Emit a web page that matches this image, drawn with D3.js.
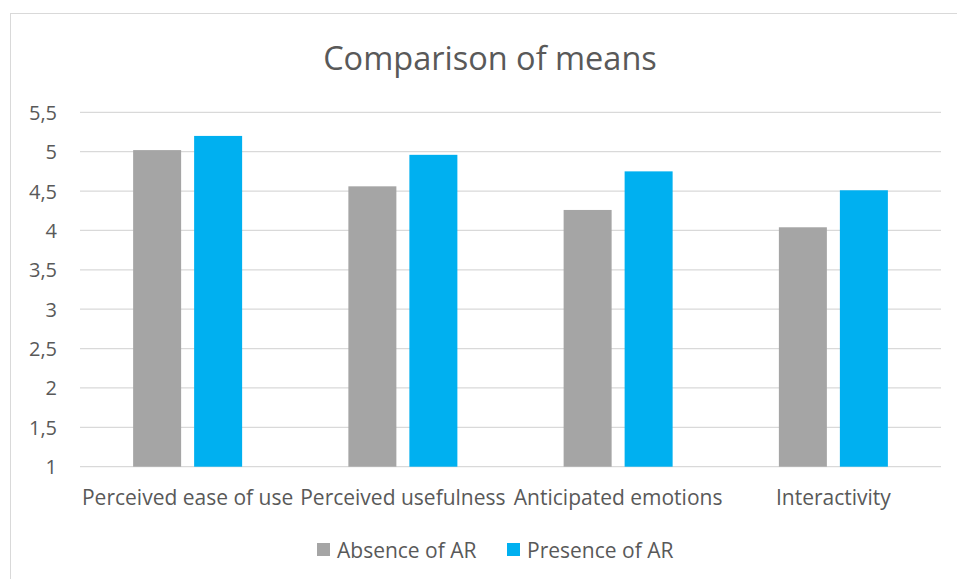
<!DOCTYPE html>
<html><head><meta charset="utf-8">
<script src="https://cdn.jsdelivr.net/npm/d3@7"></script>
<style>body{margin:0;background:#fff;} text{font-family:"Open Sans", sans-serif;}</style>
</head><body>
<svg id="c" width="957" height="579"></svg>
<script>
const categories = ["Perceived ease of use","Perceived usefulness","Anticipated emotions","Interactivity"];
const seriesNames = ["Absence of AR","Presence of AR"];
const absence = [5.02, 4.56, 4.26, 4.04];
const presence = [5.2, 4.96, 4.75, 4.51];
const yTicks = [1,1.5,2,2.5,3,3.5,4,4.5,5,5.5];
const colors = ["#A5A5A5","#00B0F0"];

const svg = d3.select("#c");
svg.append("rect").attr("x",10.5).attr("y",13.5).attr("width",960).attr("height",600)
  .attr("fill","#fff").attr("stroke","#D9D9D9");

const pLeft=80, pRight=941, pTop=112.3, pBottom=466.7;
const x = d3.scaleBand().domain(categories).range([pLeft,pRight]);
const y = d3.scaleLinear().domain([1,5.5]).range([pBottom,pTop]);
const bw = 48, gap = 13;

svg.append("g").selectAll("line").data(yTicks).join("line")
  .attr("x1",pLeft).attr("x2",pRight).attr("y1",d=>y(d)).attr("y2",d=>y(d))
  .attr("stroke","#D9D9D9").attr("stroke-width",1.3);

const series=[absence,presence];
series.forEach((vals,si)=>{
  svg.append("g").selectAll("rect").data(vals).join("rect")
    .attr("x",(d,i)=>x(categories[i])+x.bandwidth()/2 + (si===0 ? -(bw+gap/2) : gap/2))
    .attr("y",d=>y(d)).attr("width",bw).attr("height",d=>y(1)-y(d))
    .attr("fill",colors[si]);
});

const yAxis = d3.axisLeft(y).tickValues(yTicks).tickSize(0).tickPadding(0)
  .tickFormat(d=>String(d).replace(".",","));
const ya = svg.append("g").attr("transform","translate(57,0)").call(yAxis);
ya.select(".domain").remove();
ya.selectAll("text").attr("fill","#595959").style("font-size","20px").style("font-family","'Open Sans', sans-serif").attr("dy","0.35em");

const xAxis = d3.axisBottom(x).tickSize(0).tickPadding(0);
const xa = svg.append("g").attr("transform",`translate(0,${pBottom+23})`).call(xAxis);
xa.select(".domain").remove();
xa.selectAll("text").attr("fill","#595959").style("font-size","21px").style("font-family","'Open Sans', sans-serif").attr("dy","0.71em");

svg.append("text").attr("x",490).attr("y",70).attr("text-anchor","middle")
  .attr("fill","#595959").style("font-size","32.5px").text("Comparison of means");

const legX=[317,507];
seriesNames.forEach((n,i)=>{
  svg.append("rect").attr("x",legX[i]).attr("y",543).attr("width",13).attr("height",13).attr("fill",colors[i]);
  svg.append("text").attr("x",legX[i]+20).attr("y",558).attr("fill","#595959").style("font-size","21px").text(n);
});
</script>
</body></html>
